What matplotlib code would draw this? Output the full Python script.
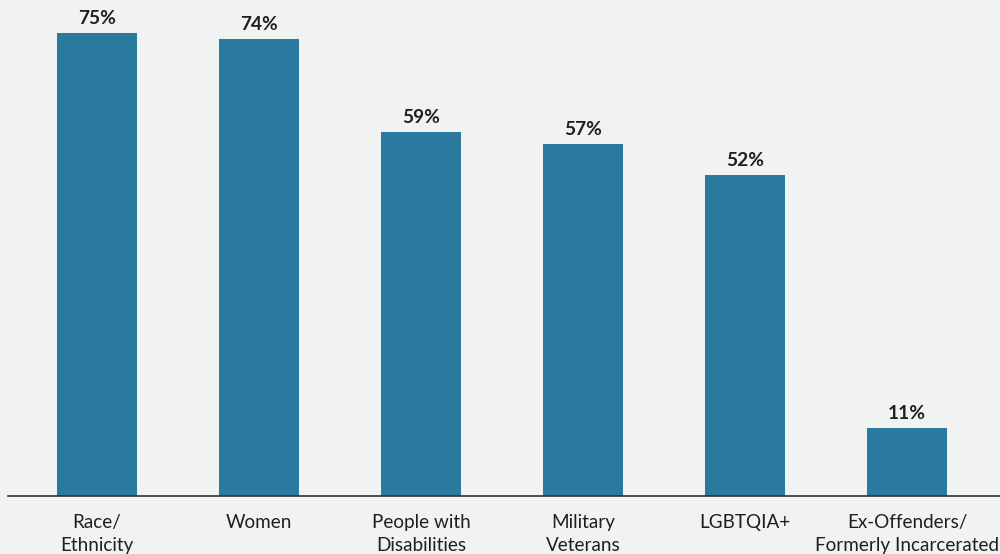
import matplotlib
matplotlib.use('Agg')
import matplotlib.pyplot as plt
import numpy as np

categories = ['Race/\nEthnicity', 'Women', 'People with\nDisabilities',
              'Military\nVeterans', 'LGBTQIA+', 'Ex-Offenders/\nFormerly Incarcerated']
values = [75, 74, 59, 57, 52, 11]

plt.rcParams['font.family'] = ['Lato', 'DejaVu Sans']

bg = '#f1f2f2'
bar_color = '#2a7aa0'
text_color = '#1f1f1f'

fig = plt.figure(figsize=(10, 5.54), dpi=100, facecolor=bg)
ax = fig.add_axes([0.008, 0.1047, 0.992, 0.8953])
ax.set_facecolor(bg)

x = np.arange(len(categories))
bars = ax.bar(x, values, width=0.494, color=bar_color, zorder=2)

for b, v in zip(bars, values):
    ax.text(b.get_x() + b.get_width() / 2, v + 1.0, f'{v}%', ha='center', va='bottom',
            fontsize=13.8, fontweight='bold', color=text_color)

ax.set_xlim(-0.549, 5.574)
ax.set_ylim(0, 80.4)
ax.set_xticks(x)
ax.set_xticklabels(categories, fontsize=13.6, color=text_color, linespacing=1.4)
ax.tick_params(axis='x', length=0, pad=13)
ax.set_yticks([])
for s in ['top', 'right', 'left']:
    ax.spines[s].set_visible(False)
ax.spines['bottom'].set_color('#333333')
ax.spines['bottom'].set_linewidth(1.2)

fig.savefig('out.png', dpi=100, facecolor=bg)
